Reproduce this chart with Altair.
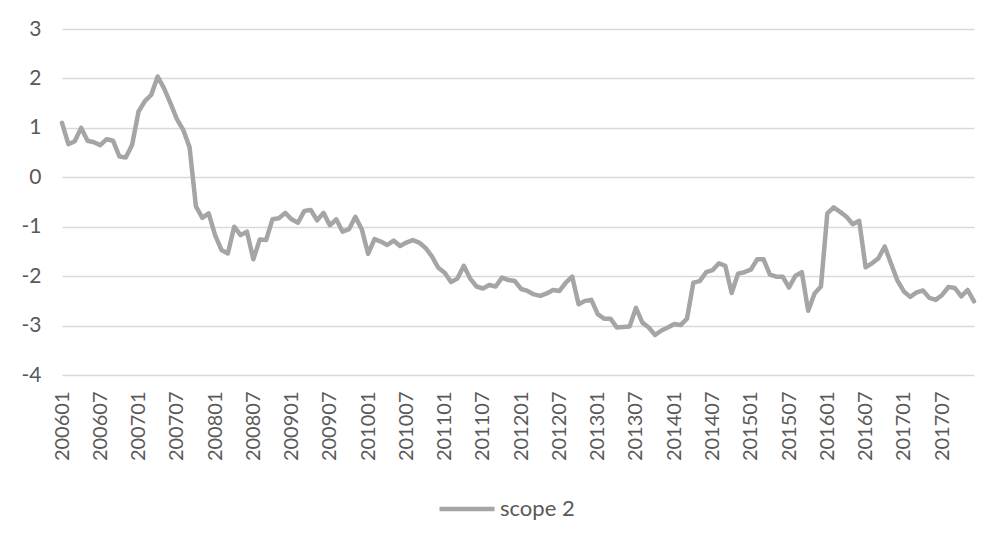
import altair as alt
import pandas as pd

years = list(range(2006, 2018))
months = [f"{y}{m:02d}" for y in years for m in range(1, 13)]
tick_labels = months[::6]

values = [
    1.10, 0.67, 0.73, 1.00, 0.74, 0.71, 0.65, 0.77, 0.74, 0.42, 0.40, 0.66,
    1.33, 1.54, 1.67, 2.04, 1.80, 1.50, 1.18, 0.96, 0.61, -0.59, -0.82, -0.73,
    -1.17, -1.47, -1.54, -1.00, -1.17, -1.10, -1.66, -1.26, -1.27, -0.85, -0.83, -0.72,
    -0.85, -0.92, -0.68, -0.66, -0.87, -0.72, -0.97, -0.85, -1.10, -1.05, -0.80, -1.05,
    -1.55, -1.25, -1.30, -1.37, -1.28, -1.39, -1.32, -1.27, -1.32, -1.43, -1.60, -1.83,
    -1.93, -2.12, -2.05, -1.79, -2.05, -2.21, -2.25, -2.18, -2.21, -2.03, -2.08, -2.10,
    -2.26, -2.30, -2.37, -2.40, -2.35, -2.28, -2.30, -2.13, -2.01, -2.57, -2.50, -2.48,
    -2.77, -2.86, -2.86, -3.04, -3.03, -3.02, -2.64, -2.94, -3.04, -3.19, -3.10, -3.04,
    -2.97, -2.99, -2.86, -2.13, -2.10, -1.92, -1.88, -1.74, -1.79, -2.34, -1.95, -1.92,
    -1.87, -1.66, -1.66, -1.97, -2.01, -2.01, -2.23, -1.99, -1.92, -2.70, -2.35, -2.21,
    -0.73, -0.61, -0.70, -0.80, -0.95, -0.88, -1.82, -1.74, -1.64, -1.40, -1.75, -2.09,
    -2.31, -2.42, -2.33, -2.29, -2.44, -2.48, -2.38, -2.22, -2.24, -2.41, -2.28, -2.51,
]
series_name = "scope 2"
y_ticks = [-4, -3, -2, -1, 0, 1, 2, 3]

df = pd.DataFrame({"month": months, "value": values, "series": series_name})

FONT = "Lato"
TXT = "#595959"

chart = alt.Chart(df).mark_line(strokeWidth=4.5, strokeJoin="round", strokeCap="round").encode(
    x=alt.X("month:O", sort=months,
            scale=alt.Scale(type="point", padding=0),
            axis=alt.Axis(values=tick_labels, labelAngle=-90, labelPadding=16,
                          ticks=False, domain=False, grid=False, title=None,
                          labelFont=FONT, labelFontSize=20, labelColor=TXT)),
    y=alt.Y("value:Q", scale=alt.Scale(domain=[-4, 3], nice=False, zero=False),
            axis=alt.Axis(values=y_ticks, ticks=False, domain=False, title=None,
                          labelExpr="toString(datum.value)",
                          gridColor="#D9D9D9", gridWidth=1.5,
                          labelPadding=21, labelFont=FONT, labelFontSize=21, labelColor=TXT)),
    color=alt.Color("series:N", scale=alt.Scale(range=["#A5A5A5"]),
                    legend=alt.Legend(orient="none", legendX=375, legendY=450, title=None,
                                      symbolType="stroke", symbolSize=3025, symbolStrokeWidth=4.5,
                                      labelFont=FONT, labelFontSize=22, labelColor=TXT,
                                      labelOffset=3, padding=0)),
).properties(
    width=912, height=346,
    autosize=alt.AutoSizeParams(type="none"),
    padding={"left": 54, "top": 21, "right": 20, "bottom": 150},
).configure_view(stroke=None).configure_legend(symbolStrokeWidth=4.5)

chart.save("out.html", embed_options={"renderer": "svg", "actions": False})
